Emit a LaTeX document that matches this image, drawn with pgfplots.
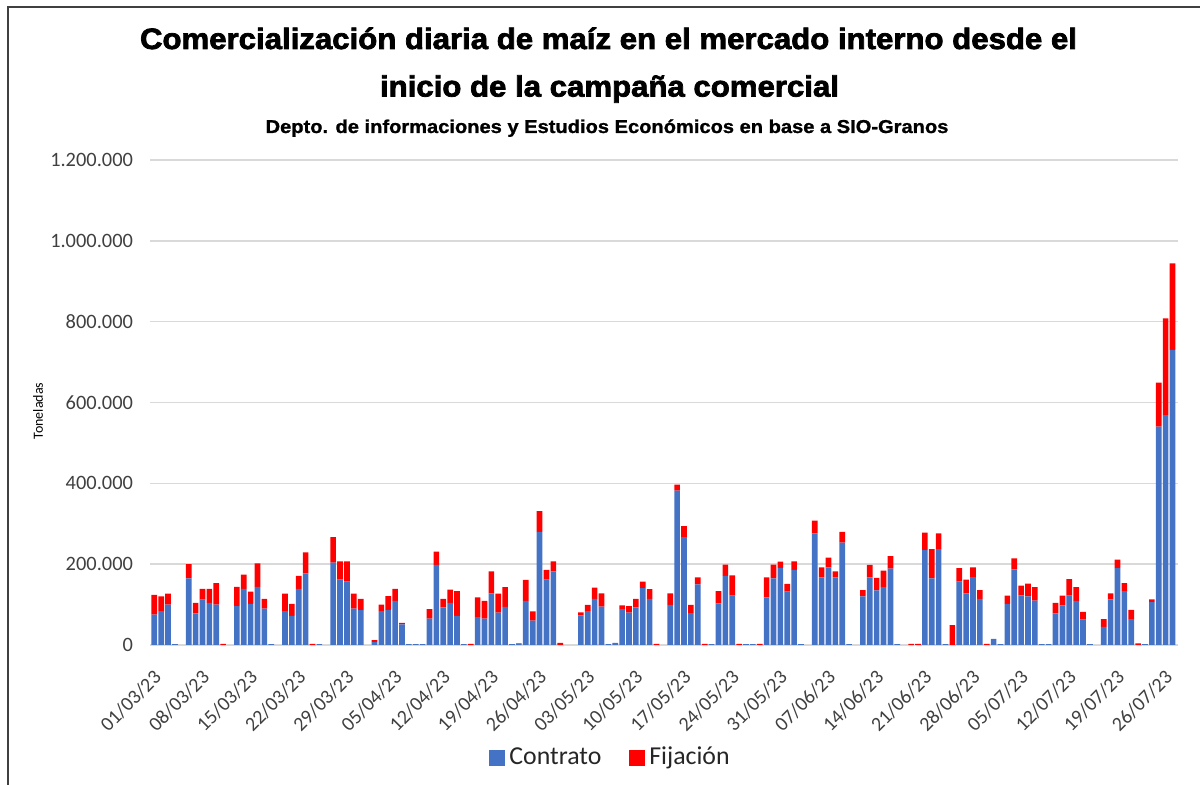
\documentclass[border=0pt]{standalone}
\usepackage{fontspec}
\setmainfont{Carlito}
\newfontfamily\titlefont[FakeStretch=1.06, FakeBold=2.5]{Liberation Sans}
\newfontfamily\subfont[FakeStretch=1.08, FakeBold=1.2]{Liberation Sans}
\usepackage{pgfplots}
\pgfplotsset{compat=1.18}
\usepackage{pgfplotstable}
\definecolor{cblue}{HTML}{4472C4}
\definecolor{cred}{HTML}{FF0000}
\definecolor{tickgray}{HTML}{404040}
\definecolor{gridgray}{HTML}{D9D9D9}

\pgfplotstableread{
idx contrato fijacion
0 75000 49000
1 84000 36000
2 100000 27000
3 2000 0
4 0 0
5 165000 35000
6 78000 26000
7 112000 27000
8 104000 35000
9 100000 53000
10 0 3000
11 0 0
12 96000 48000
13 139000 35000
14 102000 30000
15 144000 58000
16 90000 24000
17 2000 0
18 0 0
19 84000 43000
20 72000 30000
21 139000 32000
22 177000 52000
23 0 3000
24 2000 0
25 0 0
26 204000 63000
27 162000 45000
28 157000 50000
29 90000 37000
30 86000 28000
31 0 0
32 7000 5000
33 84000 16000
34 87000 34000
35 109000 30000
36 51000 4000
37 2000 0
38 2000 0
39 2000 0
40 65000 24000
41 198000 33000
42 93000 21000
43 104000 33000
44 72000 61000
45 2000 0
46 0 3000
47 69000 49000
48 65000 44000
49 128000 54000
50 80000 47000
51 94000 49000
52 2000 0
53 2000 2000
54 109000 52000
55 60000 23000
56 280000 51000
57 162000 24000
58 182000 25000
59 0 5000
60 0 0
61 0 0
62 73000 8000
63 84000 15000
64 114000 28000
65 95000 33000
66 2000 0
67 5000 0
68 89000 9000
69 80000 16000
70 93000 21000
71 141000 16000
72 114000 24000
73 0 3000
74 0 0
75 99000 29000
76 382000 15000
77 267000 27000
78 79000 20000
79 150000 17000
80 0 3000
81 2000 0
82 103000 30000
83 171000 28000
84 122000 50000
85 0 3000
86 2000 0
87 2000 0
88 0 3000
89 118000 49000
90 165000 34000
91 191000 15000
92 132000 19000
93 186000 21000
94 2000 0
95 0 0
96 276000 32000
97 167000 25000
98 192000 24000
99 167000 15000
100 253000 27000
101 2000 0
102 0 0
103 120000 16000
104 167000 31000
105 135000 31000
106 143000 41000
107 189000 31000
108 2000 0
109 0 0
110 0 3000
111 0 3000
112 235000 43000
113 165000 72000
114 237000 39000
115 2000 0
116 0 49000
117 157000 33000
118 128000 34000
119 168000 24000
120 114000 22000
121 0 3000
122 15000 0
123 2000 0
124 102000 20000
125 187000 27000
126 123000 24000
127 120000 32000
128 110000 33000
129 2000 0
130 2000 0
131 78000 26000
132 98000 24000
133 122000 41000
134 109000 34000
135 63000 19000
136 2000 0
137 0 0
138 45000 19000
139 113000 15000
140 190000 21000
141 133000 20000
142 64000 23000
143 0 4000
144 2000 0
145 106000 7000
146 540000 109000
147 569000 239000
148 730000 214000
}\datatable

\begin{document}
\begin{tikzpicture}
\path[use as bounding box] (0,0) rectangle (600pt,392.5pt);
\draw[line width=0.8pt, black!75] (4pt,0pt) -- (4pt,389pt) -- (600pt,389pt);
\node[anchor=base, font=\titlefont\bfseries\fontsize{14.7pt}{17pt}\selectfont] at (304.25pt,368pt) {Comercialización diaria de maíz en el mercado interno desde el};
\node[anchor=base, font=\titlefont\bfseries\fontsize{14.7pt}{17pt}\selectfont] at (304.75pt,344.2pt) {inicio de la campaña comercial};
\node[anchor=base, font=\subfont\bfseries\fontsize{9.3pt}{11pt}\selectfont] at (303.5pt,326pt) {Depto. de informaciones y Estudios Económicos en base a SIO-Granos};
\node[rotate=90, font=\fontsize{7pt}{8pt}\selectfont] at (19pt,187pt) {Toneladas};
\begin{axis}[
  at={(75pt,70pt)}, anchor=south west,
  scale only axis, width=514pt, height=242.5pt,
  ybar stacked, bar width=0.82,
  xmin=-0.625, xmax=148.8,
  ymin=0, ymax=1200000,
  ytick={0,200000,400000,600000,800000,1000000,1200000},
  scaled y ticks=false,
  yticklabel style={font=\fontsize{10.2pt}{11pt}\selectfont, text=tickgray, xshift=-5pt,
    /pgf/number format/fixed, /pgf/number format/1000 sep={.}, /pgf/number format/assume math mode=true},
  xtick={0,7,...,147},
  xticklabels={01/03/23,08/03/23,15/03/23,22/03/23,29/03/23,05/04/23,12/04/23,19/04/23,26/04/23,03/05/23,10/05/23,17/05/23,24/05/23,31/05/23,07/06/23,14/06/23,21/06/23,28/06/23,05/07/23,12/07/23,19/07/23,26/07/23},
  xticklabel style={xshift=-0.9pt, yshift=-7pt, rotate=45, anchor=north east, font=\fontsize{10pt}{11pt}\selectfont, text=tickgray},
  major tick length=0pt,
  ymajorgrids, grid style={gridgray, line width=0.75pt},
  axis line style={draw=none},
  legend style={at={(0.449,-0.232)}, anchor=center, draw=none, fill=none, legend columns=2,
    font=\fontsize{12.9pt}{14pt}\selectfont, text=black!85,
    /tikz/every even column/.append style={column sep=12pt}},
  legend image code/.code={\fill[#1] (0pt,-4pt) rectangle (8pt,4pt);},
]
\addplot[fill=cblue, draw=none] table[x=idx, y=contrato] {\datatable};
\addplot[fill=cred, draw=none] table[x=idx, y=fijacion] {\datatable};
\legend{Contrato, Fijación}
\end{axis}
\end{tikzpicture}
\end{document}
